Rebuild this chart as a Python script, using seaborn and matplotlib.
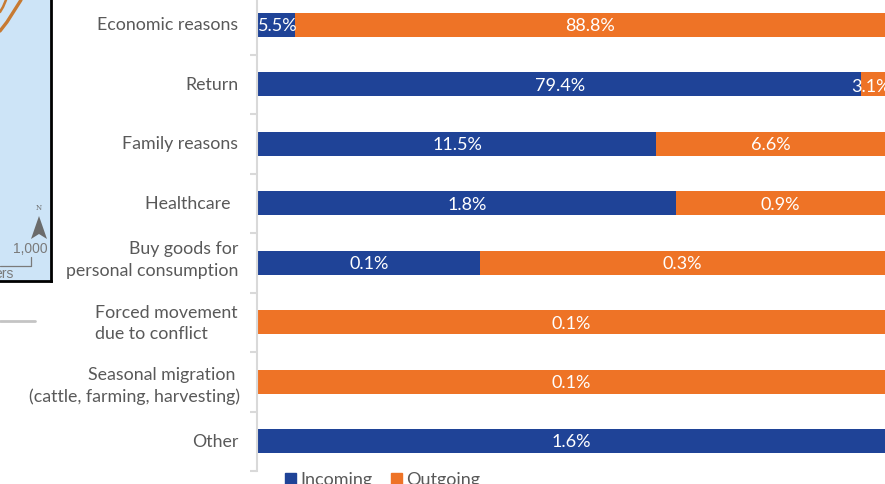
import pandas as pd
import matplotlib.pyplot as plt
import matplotlib.patches as mpatches
from matplotlib.transforms import ScaledTranslation
import seaborn as sns

categories = ['Economic reasons', 'Return', 'Family reasons', 'Healthcare ',
              'Buy goods for\npersonal consumption', 'Forced movement\ndue to conflict',
              'Seasonal migration \n(cattle, farming, harvesting)', 'Other']
incoming = [5.5, 79.4, 11.5, 1.8, 0.145, 0.0, 0.0, 1.6]
outgoing = [88.8, 3.1, 6.6, 0.9, 0.265, 0.1, 0.1, 0.0]

BLUE = '#1f4397'
ORANGE = '#ee7326'
GREY = '#595959'

df = pd.DataFrame({'Reason': categories, 'Incoming': incoming, 'Outgoing': outgoing})
df['total'] = df['Incoming'] + df['Outgoing']
df['in_share'] = df['Incoming'] / df['total'] * 100
df['all_share'] = 100.0

sns.set_style('white')
plt.rcParams['font.family'] = ['Lato', 'DejaVu Sans']

W, H = 885, 484
fig = plt.figure(figsize=(W / 100, H / 100), dpi=100)

# map fragment on the left
map_ax = fig.add_axes([0, 1 - 281 / H, 51 / W, 281 / H])
map_ax.set_xlim(0, 51)
map_ax.set_ylim(281, 0)
map_ax.set_facecolor('#cde4f7')
map_ax.set_xticks([])
map_ax.set_yticks([])
for side in ['top', 'left']:
    map_ax.spines[side].set_visible(False)
for side in ['right', 'bottom']:
    map_ax.spines[side].set_color('black')
    map_ax.spines[side].set_linewidth(2)
map_ax.plot([0, 7, 14, 21], [31, 22, 11, 0], color='#c77a32', lw=2.4)
map_ax.plot([0, 3, 6], [12, 7, 0], color='#c77a32', lw=1.8)
map_ax.add_patch(mpatches.Polygon([(39, 216), (31, 239), (39, 234), (47, 239)], color='#6b6b6b', lw=0))
map_ax.text(39, 208, 'N', fontsize=5, color='#6b6b6b', ha='center', va='center', family='DejaVu Serif')
map_ax.text(48, 249, '1,000', fontsize=10, color='#7a7a7a', ha='right', va='center', family='Liberation Sans')
map_ax.plot([0, 31, 31], [266, 266, 257], color='#7a7a7a', lw=0.9)
map_ax.text(14, 274, 'ers', fontsize=10, color='#7a7a7a', ha='right', va='center', family='Liberation Sans')

fig.add_artist(plt.Line2D([0, 35 / W], [1 - 321 / H, 1 - 321 / H], color='#c4c4c4', lw=2))

# bars
ax = fig.add_axes([258 / W, 1 - 471 / H, (W - 258) / W, 471 / H])
sns.barplot(data=df, y='Reason', x='all_share', color=ORANGE, width=0.405, saturation=1,
            orient='y', linewidth=0, ax=ax)
sns.barplot(data=df, y='Reason', x='in_share', color=BLUE, width=0.405, saturation=1,
            orient='y', linewidth=0, ax=ax)
ax.set_xlim(0, 100)
ax.set_ylim(7.5, -0.42)
ax.set_xlabel('')
ax.set_ylabel('')
ax.set_xticks([])

for i, row in df.iterrows():
    if row['Incoming'] > 0:
        dx = 0.3 if row['Reason'] == 'Economic reasons' else 0
        ax.text(row['in_share'] / 2 + dx, i + 0.02, f"{row['Incoming']:.1f}%", color='white', fontsize=13,
                ha='center', va='center', clip_on=True)
    if row['Outgoing'] > 0:
        # the small Return label sits a bit low and left in the original
        dx, dy = (-0.3, 0.05) if row['Reason'] == 'Return' else (0, 0.02)
        ax.text((row['in_share'] + 100) / 2 + dx, i + dy, f"{row['Outgoing']:.1f}%", color='white', fontsize=13,
                ha='center', va='center', clip_on=True)

for side in ['top', 'right', 'bottom']:
    ax.spines[side].set_visible(False)
ax.spines['left'].set_color('#d9d9d9')
ax.spines['left'].set_linewidth(1.5)
ax.spines['left'].set_position(('outward', 1))
ax.set_yticks([i + 0.5 for i in range(8)], minor=True)
ax.tick_params(axis='y', which='minor', length=5, width=1.5, color='#d9d9d9', left=True)
ax.tick_params(axis='y', which='major', length=0, pad=13.3, labelsize=12.8, labelcolor=GREY)

# nudges in pixels, the original labels are not quite centred on their bars
nudges = {'Healthcare ': (-3, -1), 'Buy goods for': (0, -7), 'Forced movement': (-1, -3),
          'Seasonal migration': (2, 0)}
for lab in ax.get_yticklabels():
    text = lab.get_text()
    lab.set_multialignment('left' if text.startswith('Forced') else 'right')
    lab.set_linespacing(1.42)
    nx, ny = (0, -1)
    for key, val in nudges.items():
        if text.startswith(key):
            nx, ny = val
    lab.set_transform(lab.get_transform() + ScaledTranslation(nx / 100, -ny / 100, fig.dpi_scale_trans))

handles = [mpatches.Patch(color=BLUE), mpatches.Patch(color=ORANGE)]
fig.legend(handles, ['Incoming', 'Outgoing'], ncol=2, frameon=False, fontsize=13,
           labelcolor=GREY, loc='center left', bbox_to_anchor=(285 / W, 1 - 480.5 / H),
           handlelength=0.62, handleheight=0.62, handletextpad=0.22, columnspacing=1.03, borderpad=0,
           borderaxespad=0)

fig.savefig('out.png', dpi=100)
